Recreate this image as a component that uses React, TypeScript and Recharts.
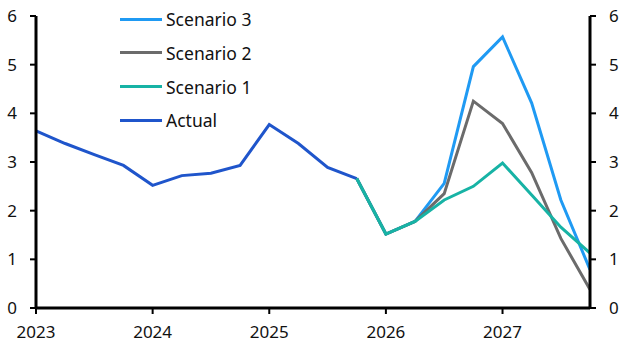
import React from 'react';
import { LineChart, Line, XAxis, YAxis, Legend } from 'recharts';

// Quarter positions (2023Q1 .. 2027Q4) as decimal years
const quarters = [
  2023, 2023.25, 2023.5, 2023.75,
  2024, 2024.25, 2024.5, 2024.75,
  2025, 2025.25, 2025.5, 2025.75,
  2026, 2026.25, 2026.5, 2026.75,
  2027, 2027.25, 2027.5, 2027.75,
];

// Actual: 2023Q1 .. 2025Q4
const actual = [3.64, 3.38, 3.15, 2.93, 2.52, 2.72, 2.77, 2.93, 3.77, 3.38, 2.89, 2.66];
// Scenarios: 2025Q4 .. 2027Q4
const scenarioStart = 11;
const scenario1 = [2.66, 1.52, 1.78, 2.22, 2.5, 2.98, 2.32, 1.66, 1.13];
const scenario2 = [2.66, 1.52, 1.78, 2.35, 4.25, 3.79, 2.78, 1.43, 0.38];
const scenario3 = [2.66, 1.52, 1.78, 2.56, 4.96, 5.57, 4.21, 2.22, 0.79];

const xTicks = [2023, 2024, 2025, 2026, 2027];
const yTicks = [0, 1, 2, 3, 4, 5, 6];

const data = quarters.map((x, i) => ({
  x,
  actual: i < actual.length ? actual[i] : null,
  s1: i >= scenarioStart ? scenario1[i - scenarioStart] : null,
  s2: i >= scenarioStart ? scenario2[i - scenarioStart] : null,
  s3: i >= scenarioStart ? scenario3[i - scenarioStart] : null,
}));

const COLORS = {
  s3: '#1f9af3',
  s2: '#6b6b6b',
  s1: '#17b3a5',
  actual: '#1f55cb',
};

const legendItems = [
  { label: 'Scenario 3', color: COLORS.s3 },
  { label: 'Scenario 2', color: COLORS.s2 },
  { label: 'Scenario 1', color: COLORS.s1 },
  { label: 'Actual', color: COLORS.actual },
];

const FONT = '"Noto Sans", "Open Sans", sans-serif';

const renderLegend = () => (
  <div style={{ position: 'relative', width: 200, height: 140 }}>
    {legendItems.map((it, i) => (
      <div
        key={it.label}
        style={{
          position: 'absolute',
          left: 0,
          top: 2 + i * 33.8,
          height: 34,
          display: 'flex',
          alignItems: 'center',
        }}
      >
        <div style={{ width: 42, height: 3, background: it.color }} />
        <span
          style={{
            marginLeft: 4,
            fontFamily: FONT,
            fontSize: 17.5,
            color: '#111',
            whiteSpace: 'nowrap',
          }}
        >
          {it.label}
        </span>
      </div>
    ))}
  </div>
);

const tickStyle = { fill: '#111', fontSize: 17, fontFamily: FONT };

export default function App() {
  return (
    <div style={{ position: 'absolute', left: 0, top: 0, width: 631, height: 351, background: '#fff' }}>
      <LineChart
        width={631}
        height={351}
        data={data}
        margin={{ top: 16, right: 0, bottom: 0, left: 0 }}
      >
        <XAxis
          dataKey="x"
          type="number"
          domain={[2023, 2027.75]}
          ticks={xTicks}
          allowDataOverflow
          height={43}
          axisLine={{ stroke: '#000', strokeWidth: 3 }}
          tickLine={{ stroke: '#000', strokeWidth: 2 }}
          tickSize={6}
          tickMargin={12}
          tick={tickStyle}
        />
        <YAxis
          yAxisId="left"
          domain={[0, 6]}
          ticks={yTicks}
          width={36}
          axisLine={{ stroke: '#000', strokeWidth: 3 }}
          tickLine={{ stroke: '#000', strokeWidth: 2 }}
          tickSize={6}
          tickMargin={13}
          tick={tickStyle}
        />
        <YAxis
          yAxisId="right"
          orientation="right"
          domain={[0, 6]}
          ticks={yTicks}
          width={41}
          axisLine={{ stroke: '#000', strokeWidth: 3 }}
          tickLine={{ stroke: '#000', strokeWidth: 2 }}
          tickSize={6}
          tickMargin={13}
          tick={tickStyle}
        />
        <Legend
          layout="vertical"
          align="center"
          verticalAlign="middle"
          content={renderLegend}
          wrapperStyle={{ position: 'absolute', left: 120, top: 0, width: 200, height: 140 }}
        />
        <Line yAxisId="right" dataKey="actual" stroke="none" legendType="none" dot={false} activeDot={false} isAnimationActive={false} />
        <Line yAxisId="left" dataKey="actual" stroke={COLORS.actual} strokeWidth={3} dot={false} isAnimationActive={false} connectNulls={false} />
        <Line yAxisId="left" dataKey="s3" stroke={COLORS.s3} strokeWidth={3} dot={false} isAnimationActive={false} connectNulls={false} />
        <Line yAxisId="left" dataKey="s2" stroke={COLORS.s2} strokeWidth={3} dot={false} isAnimationActive={false} connectNulls={false} />
        <Line yAxisId="left" dataKey="s1" stroke={COLORS.s1} strokeWidth={3} dot={false} isAnimationActive={false} connectNulls={false} />
      </LineChart>
    </div>
  );
}
